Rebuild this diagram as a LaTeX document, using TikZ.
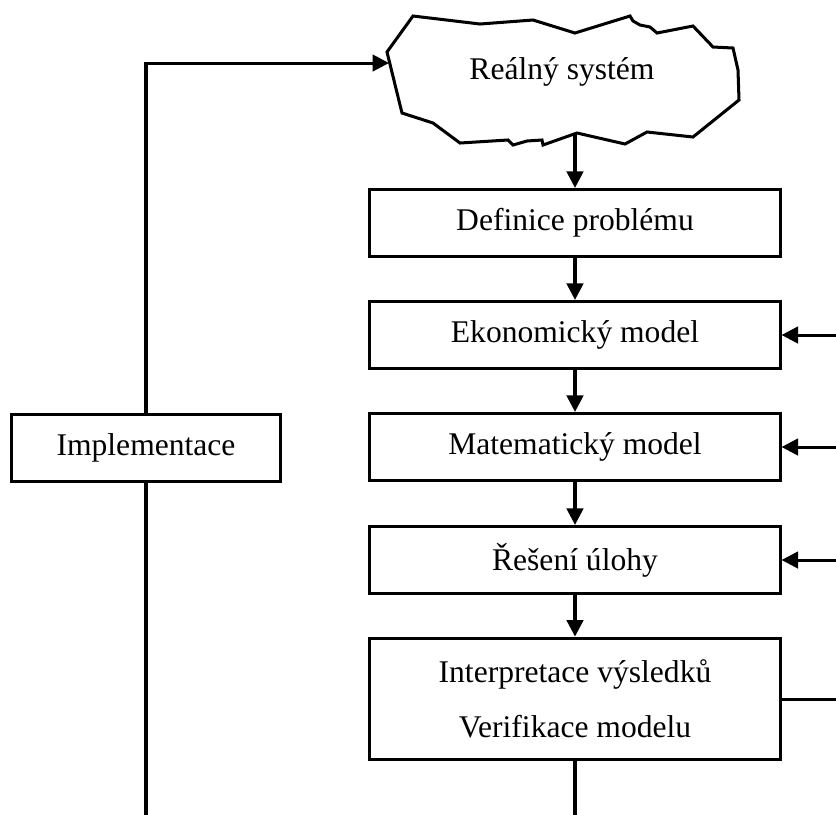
\documentclass[tikz,border=0pt]{standalone}
\usepackage{fontspec}
\setmainfont{Liberation Serif}
\usetikzlibrary{arrows.meta}

\tikzset{
  krok/.style={draw, line width=1.1pt, minimum width=5.25cm, minimum height=0.86cm,
    inner sep=0pt, align=center, font=\fontsize{11.5}{20}\selectfont},
  sipka/.style={line width=1.1pt, -{Triangle[length=6pt,width=6pt]}},
  cara/.style={line width=1.1pt},
}

\begin{document}
\begin{tikzpicture}[x=0.0128cm, y=-0.0128cm]
  \useasboundingbox (0,0) rectangle (836,814);
  % realny system
  \draw [cara] (413,16) -- (480,24) -- (533,20) -- (575,33) -- (630,16) -- (633,21)
    -- (640,25) -- (650,27) -- (657,33) -- (693,26) -- (713,47) -- (733,48)
    -- (738,70) -- (739,100) -- (693,137) -- (647,132) -- (625,144) -- (577,133)
    -- (543,145) -- (542,140) -- (527,141) -- (513,145) -- (508,140) -- (460,143)
    -- (433,123) -- (402,113) -- (387,52) -- cycle;
  \node (sys) at (562,72) [font=\fontsize{11.5}{14}\selectfont] {Reálný systém};
  \coordinate (sysdole) at (575,133);
  \coordinate (sysvlevo) at (389,63);
  % kroky
  \node (def) at (575,223) [krok] {Definice problému};
  \node (eko) at (575,335) [krok] {Ekonomický model};
  \node (mat) at (575,447) [krok] {Matematický model};
  \node (res) at (575,560) [krok] {Řešení úlohy};
  \node (int) at (575,699) [krok, minimum height=1.56cm] {Interpretace výsledků\\Verifikace modelu};
  \node (imp) at (146,448) [krok, minimum width=3.44cm] {Implementace};
  % okraje
  \coordinate (pravo) at (845,0);
  \coordinate (dole) at (0,825);
  \draw [sipka] (sysdole) to (def);
  \draw [sipka] (def) to (eko);
  \draw [sipka] (eko) to (mat);
  \draw [sipka] (mat) to (res);
  \draw [sipka] (res) to (int);
  \draw [cara] (int) to (int |- dole);
  \draw [sipka] (eko -| pravo) to (eko.east);
  \draw [sipka] (mat -| pravo) to (mat.east);
  \draw [sipka] (res -| pravo) to (res.east);
  \draw [cara] (int.east) to (int -| pravo);
  \draw [sipka] (imp.north) |- (sysvlevo);
  \draw [cara] (imp.south) to (imp |- dole);
\end{tikzpicture}
\end{document}
